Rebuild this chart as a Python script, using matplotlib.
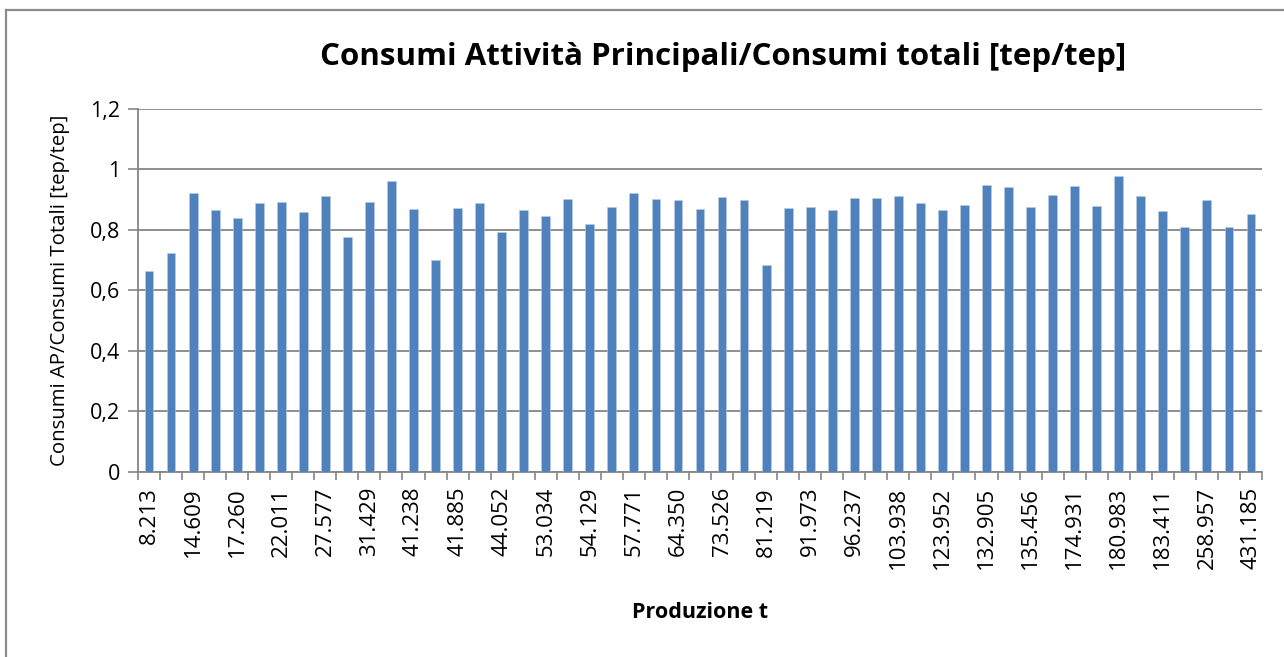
#!/usr/bin/env python3
"""Consumi Attività Principali / Consumi totali, bar chart per produzione."""

import matplotlib

matplotlib.use("Agg")
import matplotlib.pyplot as plt
from matplotlib.lines import Line2D
from matplotlib.ticker import FixedLocator, MultipleLocator

# rapporto consumi AP / consumi totali, una barra per stabilimento
RATIO = [
    0.664, 0.722, 0.923, 0.865, 0.838, 0.890, 0.892, 0.859, 0.912, 0.776,
    0.892, 0.963, 0.869, 0.699, 0.873, 0.890, 0.793, 0.865, 0.847, 0.902,
    0.819, 0.875, 0.923, 0.902, 0.898, 0.868, 0.908, 0.899, 0.684, 0.871,
    0.875, 0.865, 0.907, 0.904, 0.911, 0.890, 0.865, 0.882, 0.947, 0.941,
    0.877, 0.914, 0.945, 0.878, 0.978, 0.912, 0.862, 0.810, 0.899, 0.811,
    0.851,
]

# etichette visibili (una barra su due)
SHOWN_LABELS = [
    "8.213", "14.609", "17.260", "22.011", "27.577", "31.429", "41.238",
    "41.885", "44.052", "53.034", "54.129", "57.771", "64.350", "73.526",
    "81.219", "91.973", "96.237", "103.938", "123.952", "132.905", "135.456",
    "174.931", "180.983", "183.411", "258.957", "431.185",
]
Y_TICKS = [0, 0.2, 0.4, 0.6, 0.8, 1.0, 1.2]
Y_TICK_LABELS = ["0", "0,2", "0,4", "0,6", "0,8", "1", "1,2"]

TITLE = "Consumi Attività Principali/Consumi totali [tep/tep]"
XLABEL = "Produzione t"
YLABEL = "Consumi AP/Consumi Totali [tep/tep]"

BAR_COLOR = "#4F81BD"
GRID_COLOR = "#868686"

W, H = 1284, 657
plt.rcParams["font.family"] = ["Open Sans", "DejaVu Sans"]

fig = plt.figure(figsize=(W / 100, H / 100), dpi=100)
fig.patch.set_facecolor("white")

# chart frame (only left/top edges fall inside the image)
fig.add_artist(Line2D([6 / W, 6 / W], [0, 1 - 10 / H], color="#8C8C8C", lw=1.6, transform=fig.transFigure))
fig.add_artist(Line2D([6 / W, 1], [1 - 10 / H, 1 - 10 / H], color="#8C8C8C", lw=1.6, transform=fig.transFigure))

left, right, top, bottom = 138, 1262, 109, 471.7
ax = fig.add_axes([left / W, 1 - bottom / H, (right - left) / W, (bottom - top) / H])

x = list(range(len(RATIO)))
ax.bar(x, RATIO, width=0.4, color=BAR_COLOR, edgecolor="#B9CDE5", linewidth=0.4, zorder=3)

ax.set_xlim(-0.5, len(RATIO) - 0.5)
ax.set_ylim(0, 1.2)

ax.set_yticks(Y_TICKS)
ax.set_yticklabels(Y_TICK_LABELS, fontsize=15.5)
ax.grid(True, axis="y", color=GRID_COLOR, linewidth=1.3, zorder=0)
ax.set_axisbelow(True)

shown_pos = x[::2]
ax.xaxis.set_major_locator(FixedLocator(shown_pos))
ax.set_xticklabels(SHOWN_LABELS, rotation=90, fontsize=16)
ax.xaxis.set_minor_locator(MultipleLocator(1, offset=0.5))
ax.tick_params(axis="x", which="major", length=0, pad=11)
ax.tick_params(axis="x", which="minor", length=6, width=1.2, color=GRID_COLOR, direction="out")
ax.tick_params(axis="y", length=7, width=1.2, color=GRID_COLOR, pad=6)

for side in ("top", "right"):
    ax.spines[side].set_visible(False)
for side in ("left", "bottom"):
    ax.spines[side].set_color(GRID_COLOR)
    ax.spines[side].set_linewidth(1.3)

fig.text(723 / W, 1 - 57 / H, TITLE, ha="center", va="center", fontsize=22.5, fontweight="bold")
fig.text(700 / W, 1 - 613 / H, XLABEL, ha="center", va="center", fontsize=15.5, fontweight="bold")
fig.text(60 / W, 1 - 290 / H, YLABEL, ha="center", va="center", rotation=90, fontsize=14.7)

fig.savefig("out.png", dpi=100)
